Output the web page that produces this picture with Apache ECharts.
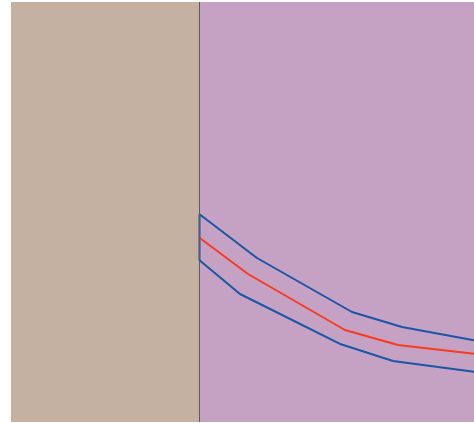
<!DOCTYPE html>
<html>
<head>
<meta charset="utf-8">
<script src="https://cdn.jsdelivr.net/npm/echarts@6/dist/echarts.min.js"></script>
<style>
html,body{margin:0;padding:0;background:#fff;}
#chart{width:474px;height:423px;}
</style>
</head>
<body>
<div id="chart"></div>
<script>
// Data (x in horizontal units, y in vertical units)
var splitX = 188.5;
var xMin = 0, xMax = 463;
var yMin = 0, yMax = 420;

var upperX = [188.5, 246, 341, 391, 463];
var upperY = [207.7, 164, 110, 95, 81.7];

var centerX = [188.5, 237, 334, 387, 463];
var centerY = [184.3, 148, 92, 77, 68.3];

var lowerX = [188.5, 229, 330, 382, 463];
var lowerY = [161.7, 128, 77.7, 61, 50.3];

function pairs(xs, ys) { return xs.map(function (x, i) { return [x, ys[i]]; }); }

// band outline: lower reversed, then upper (joined at the left edge)
var bandData = pairs(lowerX, lowerY).reverse().concat(pairs(upperX, upperY));

var chart = echarts.init(document.getElementById('chart'));
chart.setOption({
  animation: false,
  backgroundColor: '#ffffff',
  grid: {
    left: 11, top: 2, width: 463, height: 420,
    show: true, backgroundColor: '#C5A2C3', borderWidth: 0
  },
  xAxis: {
    type: 'value', min: xMin, max: xMax, show: false
  },
  yAxis: {
    type: 'value', min: yMin, max: yMax, show: false
  },
  series: [
    {
      type: 'line',
      data: [],
      markArea: {
        silent: true,
        itemStyle: { color: '#C4B1A2', opacity: 1 },
        data: [[{ xAxis: xMin, yAxis: yMin }, { xAxis: splitX, yAxis: yMax }]]
      },
      markLine: {
        silent: true,
        symbol: 'none',
        label: { show: false },
        lineStyle: { color: '#5f5a5f', width: 1, type: 'solid' },
        data: [{ xAxis: splitX }]
      }
    },
    {
      type: 'line',
      data: bandData,
      showSymbol: false,
      lineStyle: { color: '#1A55A8', width: 2 },
      z: 3
    },
    {
      type: 'line',
      data: pairs(centerX, centerY),
      showSymbol: false,
      lineStyle: { color: '#F83A1E', width: 2 },
      z: 4
    }
  ]
});
</script>
</body>
</html>
